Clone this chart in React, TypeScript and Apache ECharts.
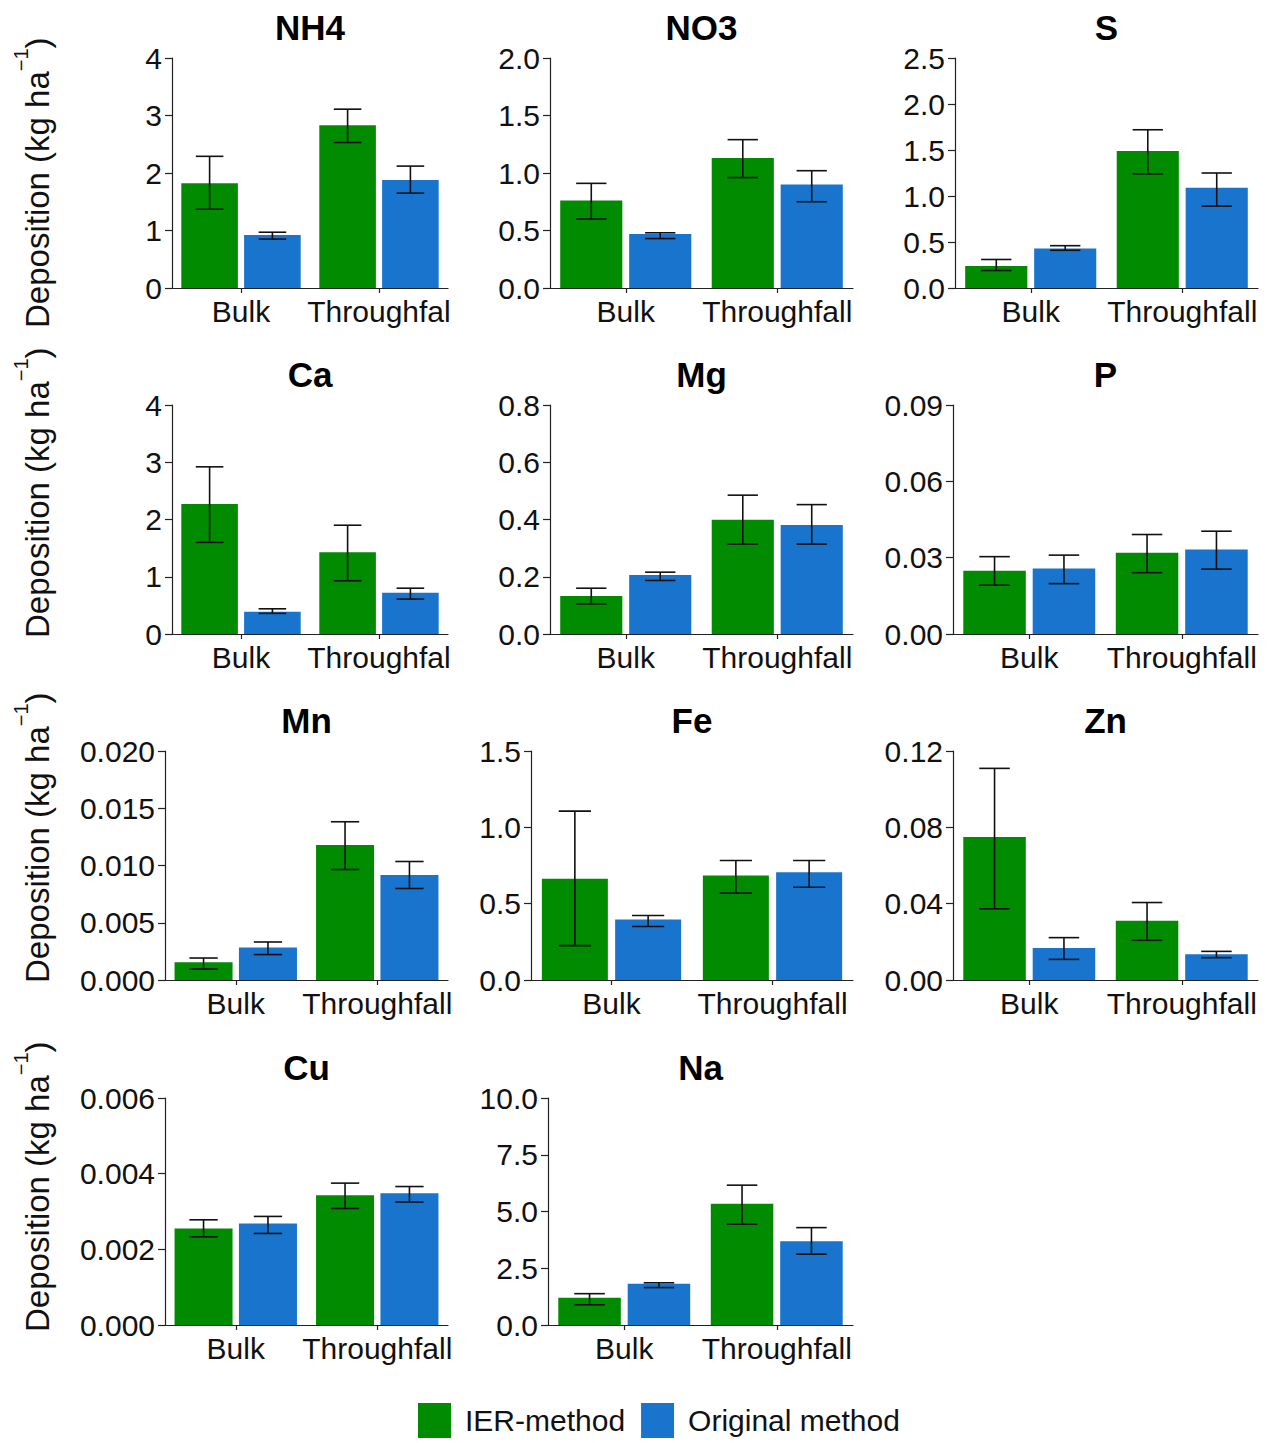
import React, { useEffect, useRef } from "react";
import * as echarts from "echarts";

// ---------- data ----------
const categories = ["Bulk", "Throughfall"];
const methods = ["IER-method", "Original method"];

// means [Bulk, Throughfall]; error ranges [[lo, hi], [lo, hi]]
const NH4_IER = [1.82, 2.83];
const NH4_IER_ERR = [[1.37, 2.29], [2.53, 3.11]];
const NH4_ORIG = [0.92, 1.88];
const NH4_ORIG_ERR = [[0.85, 0.97], [1.65, 2.12]];
const NH4_TICKS = ["0", "1", "2", "3", "4"];

const NO3_IER = [0.76, 1.13];
const NO3_IER_ERR = [[0.6, 0.91], [0.96, 1.29]];
const NO3_ORIG = [0.47, 0.9];
const NO3_ORIG_ERR = [[0.43, 0.48], [0.75, 1.02]];
const NO3_TICKS = ["0.0", "0.5", "1.0", "1.5", "2.0"];

const S_IER = [0.24, 1.49];
const S_IER_ERR = [[0.19, 0.31], [1.24, 1.72]];
const S_ORIG = [0.43, 1.09];
const S_ORIG_ERR = [[0.41, 0.46], [0.89, 1.25]];
const S_TICKS = ["0.0", "0.5", "1.0", "1.5", "2.0", "2.5"];

const CA_IER = [2.27, 1.43];
const CA_IER_ERR = [[1.6, 2.92], [0.93, 1.9]];
const CA_ORIG = [0.39, 0.72];
const CA_ORIG_ERR = [[0.36, 0.44], [0.61, 0.8]];
const CA_TICKS = ["0", "1", "2", "3", "4"];

const MG_IER = [0.133, 0.399];
const MG_IER_ERR = [[0.105, 0.16], [0.314, 0.485]];
const MG_ORIG = [0.206, 0.381];
const MG_ORIG_ERR = [[0.187, 0.216], [0.314, 0.452]];
const MG_TICKS = ["0.0", "0.2", "0.4", "0.6", "0.8"];

const P_IER = [0.0249, 0.0319];
const P_IER_ERR = [[0.0192, 0.0304], [0.0241, 0.0391]];
const P_ORIG = [0.0257, 0.0332];
const P_ORIG_ERR = [[0.0198, 0.031], [0.0255, 0.0404]];
const P_TICKS = ["0.00", "0.03", "0.06", "0.09"];

const MN_IER = [0.00155, 0.01178];
const MN_IER_ERR = [[0.00096, 0.00192], [0.00965, 0.01382]];
const MN_ORIG = [0.00283, 0.00918];
const MN_ORIG_ERR = [[0.00222, 0.00332], [0.00799, 0.01035]];
const MN_TICKS = ["0.000", "0.005", "0.010", "0.015", "0.020"];

const FE_IER = [0.663, 0.684];
const FE_IER_ERR = [[0.225, 1.106], [0.569, 0.783]];
const FE_ORIG = [0.396, 0.706];
const FE_ORIG_ERR = [[0.35, 0.422], [0.608, 0.783]];
const FE_TICKS = ["0.0", "0.5", "1.0", "1.5"];

const ZN_IER = [0.075, 0.031];
const ZN_IER_ERR = [[0.0373, 0.1109], [0.0208, 0.0406]];
const ZN_ORIG = [0.0168, 0.0135];
const ZN_ORIG_ERR = [[0.0108, 0.0222], [0.0117, 0.015]];
const ZN_TICKS = ["0.00", "0.04", "0.08", "0.12"];

const CU_IER = [0.00255, 0.00343];
const CU_IER_ERR = [[0.00233, 0.00278], [0.00308, 0.00375]];
const CU_ORIG = [0.00268, 0.00348];
const CU_ORIG_ERR = [[0.00242, 0.00287], [0.00325, 0.00366]];
const CU_TICKS = ["0.000", "0.002", "0.004", "0.006"];

const NA_IER = [1.2, 5.34];
const NA_IER_ERR = [[0.89, 1.38], [4.44, 6.16]];
const NA_ORIG = [1.82, 3.69];
const NA_ORIG_ERR = [[1.65, 1.86], [3.12, 4.29]];
const NA_TICKS = ["0.0", "2.5", "5.0", "7.5", "10.0"];

const panels = [
  { name: "NH4", ier: NH4_IER, ierErr: NH4_IER_ERR, orig: NH4_ORIG, origErr: NH4_ORIG_ERR, ticks: NH4_TICKS },
  { name: "NO3", ier: NO3_IER, ierErr: NO3_IER_ERR, orig: NO3_ORIG, origErr: NO3_ORIG_ERR, ticks: NO3_TICKS },
  { name: "S", ier: S_IER, ierErr: S_IER_ERR, orig: S_ORIG, origErr: S_ORIG_ERR, ticks: S_TICKS },
  { name: "Ca", ier: CA_IER, ierErr: CA_IER_ERR, orig: CA_ORIG, origErr: CA_ORIG_ERR, ticks: CA_TICKS },
  { name: "Mg", ier: MG_IER, ierErr: MG_IER_ERR, orig: MG_ORIG, origErr: MG_ORIG_ERR, ticks: MG_TICKS },
  { name: "P", ier: P_IER, ierErr: P_IER_ERR, orig: P_ORIG, origErr: P_ORIG_ERR, ticks: P_TICKS },
  { name: "Mn", ier: MN_IER, ierErr: MN_IER_ERR, orig: MN_ORIG, origErr: MN_ORIG_ERR, ticks: MN_TICKS },
  { name: "Fe", ier: FE_IER, ierErr: FE_IER_ERR, orig: FE_ORIG, origErr: FE_ORIG_ERR, ticks: FE_TICKS },
  { name: "Zn", ier: ZN_IER, ierErr: ZN_IER_ERR, orig: ZN_ORIG, origErr: ZN_ORIG_ERR, ticks: ZN_TICKS },
  { name: "Cu", ier: CU_IER, ierErr: CU_IER_ERR, orig: CU_ORIG, origErr: CU_ORIG_ERR, ticks: CU_TICKS },
  { name: "Na", ier: NA_IER, ierErr: NA_IER_ERR, orig: NA_ORIG, origErr: NA_ORIG_ERR, ticks: NA_TICKS },
];

// ---------- layout / style ----------
const FONT = "'Liberation Sans', Arial, Helvetica, sans-serif";
const GREEN = "#008B00";
const BLUE = "#1874CD";
const AXIS = "#222222";
const TICK_FS = 30;
const ROWS = [[58, 288], [405, 634], [751, 980], [1098, 1325]];
// [row, left, right, clipLabel]
const LAYOUT: [number, number, number, boolean][] = [
  [0, 172, 448, true], [0, 550, 853, false], [0, 955, 1258, false],
  [1, 172, 448, true], [1, 550, 853, false], [1, 953, 1258, false],
  [2, 165, 448, false], [2, 531, 853, false], [2, 953, 1258, false],
  [3, 165, 448, false], [3, 548, 853, false],
];
const YTITLE_BOTTOM = [328, 638, 983, 1332];

const BAR_W = 0.41;
const BAR_GAP = 0.11;
const OFFSET = BAR_W / 2 + (BAR_W * BAR_GAP) / 2;

function errRender(params: any, api: any) {
  const cat = api.value(0);
  const m = api.value(1);
  const lo = api.value(2);
  const hi = api.value(3);
  const band = api.size([1, 0])[0];
  const pLo = api.coord([cat, lo]);
  const pHi = api.coord([cat, hi]);
  const x = pLo[0] + (m === 0 ? -1 : 1) * OFFSET * band;
  const half = 0.1 * band;
  const style = { stroke: "#111111", lineWidth: 1.6 };
  return {
    type: "group",
    children: [
      { type: "line", shape: { x1: x, y1: pLo[1], x2: x, y2: pHi[1] }, style },
      { type: "line", shape: { x1: x - half, y1: pLo[1], x2: x + half, y2: pLo[1] }, style },
      { type: "line", shape: { x1: x - half, y1: pHi[1], x2: x + half, y2: pHi[1] }, style },
    ],
  };
}

function buildOption() {
  const grid: any[] = [];
  const xAxis: any[] = [];
  const yAxis: any[] = [];
  const series: any[] = [];
  const graphic: any[] = [];

  panels.forEach((p, i) => {
    const [row, l, r, clip] = LAYOUT[i];
    const [t, b] = ROWS[row];
    grid.push({ left: l, top: t, width: r - l, height: b - t, containLabel: false });
    const lineStyle = { color: AXIS, width: 1.2 };
    xAxis.push({
      type: "category",
      gridIndex: i,
      data: categories,
      axisLine: { show: true, lineStyle },
      axisTick: { show: true, alignWithLabel: true, length: 5, lineStyle },
      axisLabel: {
        interval: 0,
        color: "#111111",
        fontSize: TICK_FS,
        fontFamily: FONT,
        margin: 8,
        ...(clip ? { width: 146, overflow: "truncate", ellipsis: "" } : {}),
      },
    });
    const vals = p.ticks.map(Number);
    yAxis.push({
      type: "value",
      gridIndex: i,
      min: 0,
      max: vals[vals.length - 1],
      interval: vals[1] - vals[0],
      splitLine: { show: false },
      axisLine: { show: true, lineStyle },
      axisTick: { show: true, length: 7, lineStyle },
      axisLabel: {
        color: "#111111",
        fontSize: TICK_FS,
        fontFamily: FONT,
        margin: 10,
        formatter: (v: number) => {
          const k = vals.findIndex((x) => Math.abs(x - v) < 1e-9);
          return k >= 0 ? p.ticks[k] : "";
        },
      },
    });
    series.push({
      type: "bar",
      name: methods[0],
      xAxisIndex: i,
      yAxisIndex: i,
      data: p.ier,
      barWidth: BAR_W * 100 + "%",
      barGap: BAR_GAP * 100 + "%",
      itemStyle: { color: GREEN },
    });
    series.push({
      type: "bar",
      name: methods[1],
      xAxisIndex: i,
      yAxisIndex: i,
      data: p.orig,
      barWidth: BAR_W * 100 + "%",
      barGap: BAR_GAP * 100 + "%",
      itemStyle: { color: BLUE },
    });
    series.push({
      type: "custom",
      xAxisIndex: i,
      yAxisIndex: i,
      renderItem: errRender,
      encode: { x: 0, y: [2, 3] },
      z: 5,
      silent: true,
      data: [
        [0, 0, p.ierErr[0][0], p.ierErr[0][1]],
        [0, 1, p.origErr[0][0], p.origErr[0][1]],
        [1, 0, p.ierErr[1][0], p.ierErr[1][1]],
        [1, 1, p.origErr[1][0], p.origErr[1][1]],
      ],
    });
    graphic.push({
      type: "text",
      x: (l + r) / 2,
      y: t - 30.5,
      style: {
        text: p.name,
        fontSize: 35,
        fontWeight: "bold",
        fontFamily: FONT,
        fill: "#000000",
        align: "center",
        verticalAlign: "middle",
      },
    });
  });

  YTITLE_BOTTOM.forEach((yb) => {
    graphic.push({
      type: "text",
      x: 37,
      y: yb,
      rotation: Math.PI / 2,
      style: {
        text: "{n|Deposition (kg ha}{s|−1}{n|)}",
        fill: "#111111",
        fontFamily: FONT,
        fontSize: 33,
        align: "left",
        verticalAlign: "middle",
        rich: {
          n: { fontSize: 33, fontFamily: FONT, lineHeight: 53, fill: "#111111" },
          s: { fontSize: 20, fontFamily: FONT, lineHeight: 19, verticalAlign: "top", fill: "#111111" },
        },
      },
    });
  });

  return {
    animation: false,
    backgroundColor: "#ffffff",
    grid,
    xAxis,
    yAxis,
    series,
    graphic,
    legend: {
      data: methods,
      left: 413,
      top: 1398,
      icon: "rect",
      itemWidth: 33,
      itemHeight: 35,
      itemGap: 16,
      selectedMode: false,
      textStyle: { fontSize: 30, fontFamily: FONT, color: "#111111", padding: [0, 0, 0, 9] },
    },
  };
}

export default function App() {
  const ref = useRef<HTMLDivElement>(null);
  useEffect(() => {
    if (!ref.current) return;
    const chart = echarts.init(ref.current, null, { renderer: "svg" });
    chart.setOption(buildOption() as any);
    return () => chart.dispose();
  }, []);
  return (
    <div
      ref={ref}
      style={{ position: "absolute", left: 0, top: 0, width: 1268, height: 1443, background: "#fff" }}
    />
  );
}
